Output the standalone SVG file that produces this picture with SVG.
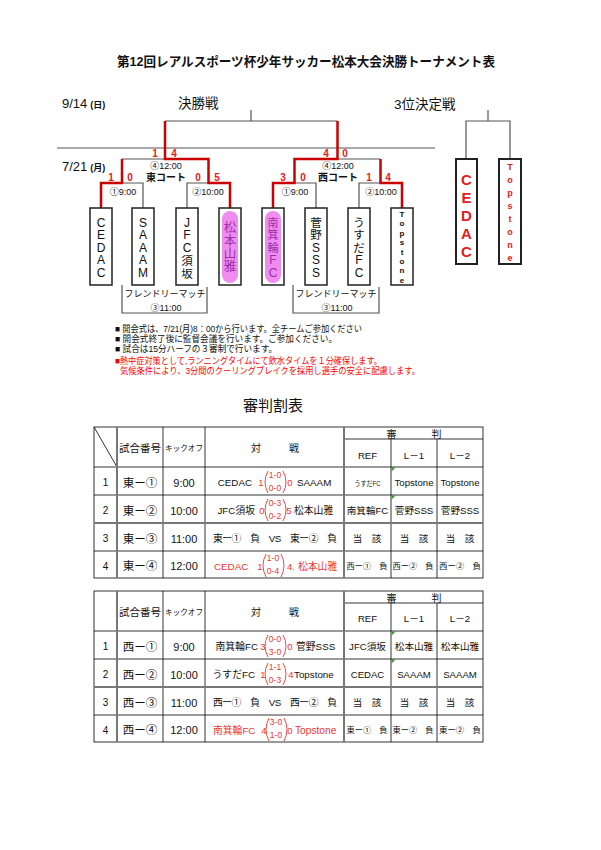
<svg xmlns="http://www.w3.org/2000/svg" width="601" height="850" viewBox="0 0 601 850">
<style>
text{font-family:"Liberation Sans","Noto Sans CJK JP",sans-serif;fill:#111}
.g{fill:none;stroke:#555;stroke-width:1.2}
.r{fill:none;stroke:#cc0000;stroke-width:2.5}
.box{fill:#fff;stroke:#222;stroke-width:1.5}
.box3{fill:#fff;stroke:#222;stroke-width:2}
.pill{fill:#f08cf0}
.vt{font-size:12px;text-anchor:middle}
.vs{font-size:8px;font-weight:bold;text-anchor:middle}
.pt{font-size:13px;text-anchor:middle;fill:#9a2fa8}
.sc{font-size:10px;font-weight:bold;fill:#e02020;text-anchor:middle}
.lb{font-size:9px;text-anchor:middle}
.note{font-size:9px}
.rn{fill:#ff0000}
.c{text-anchor:middle}
.e{text-anchor:end}
.tl{fill:none;stroke:#000;stroke-width:0.8}
.tk{fill:none;stroke:#777;stroke-width:2}
.num{font-size:10px;text-anchor:middle}
.mn{font-size:11.5px;text-anchor:middle}
.tm{font-size:11px;text-anchor:middle}
.m{font-size:9.8px}
.sm{font-size:8.5px;text-anchor:middle;fill:#ee3333}
.sd{font-size:9.5px;text-anchor:middle;fill:#ee3333}
.red{fill:#ee3333}
.par{fill:none;stroke:#ee3333;stroke-width:0.9}
.ref{font-size:9.6px;text-anchor:middle}
.rs{font-size:8.2px;text-anchor:middle}
.hd{font-size:10px;text-anchor:middle}
.gm{fill:#2a9a2a}
</style>
<rect x="0" y="0" width="601" height="850" fill="#fff"/>

<text x="306" y="66" class="c" font-size="13" font-weight="bold" textLength="378" lengthAdjust="spacingAndGlyphs">第12回レアルスポーツ杯少年サッカー松本大会決勝トーナメント表</text>

<text x="62" y="108" font-size="13">9/14<tspan dx="3" font-size="9" font-weight="bold">(日)</tspan></text>
<text x="62" y="171" font-size="13">7/21<tspan dx="3" font-size="9" font-weight="bold">(月)</tspan></text>
<text x="178" y="108" font-size="13.5">決勝戦</text>
<text x="394" y="109" font-size="13.5">3位決定戦</text>

<g id="connectors">
<path class="g" d="M251,110V121 M165,121H337.5 M122,159H165 M122,183H143V208 M187,208V183H208.5 M337.5,159H380.5 M294.5,183H316V208 M359,208V183H380.5 M57,148H435 M488,110V121 M466,159V121H510V159 M122,285V313H207V287 M293,285V313H379V287"/>
<path class="r" d="M101,208V183H122V159 M230,208V183H208.5V159H165V121 M273,208V183H294.5V159H337.5V121 M402,208V183H380.5V159"/>
</g>

<g id="labels">
<text class="sc" x="155" y="157">1</text>
<text class="sc" x="174" y="157">4</text>
<text class="sc" x="111" y="181">1</text>
<text class="sc" x="130" y="181">0</text>
<text class="sc" x="198" y="181">0</text>
<text class="sc" x="217" y="181">5</text>
<text class="sc" x="326" y="157">4</text>
<text class="sc" x="345" y="157">0</text>
<text class="sc" x="283" y="181">3</text>
<text class="sc" x="303" y="181">0</text>
<text class="sc" x="369" y="181">1</text>
<text class="sc" x="388" y="181">4</text>
<text class="lb" x="166" y="169">④12:00</text>
<text class="c" x="166" y="181" font-size="10" font-weight="bold">東コート</text>
<text class="lb" x="338" y="169">④12:00</text>
<text class="c" x="338" y="181" font-size="10" font-weight="bold">西コート</text>
<text class="lb" x="123" y="195">①9:00</text>
<text class="lb" x="208" y="195">②10:00</text>
<text class="lb" x="295" y="195">①9:00</text>
<text class="lb" x="381" y="195">②10:00</text>
<text class="lb" x="165" y="297">フレンドリーマッチ</text>
<text class="lb" x="166" y="311">③11:00</text>
<text class="lb" x="336" y="297">フレンドリーマッチ</text>
<text class="lb" x="337" y="311">③11:00</text>
</g>

<g id="team-cedac">
<rect class="box" x="90" y="208" width="22" height="77"/>
<text class="vt"><tspan x="101" y="226.5">C</tspan><tspan x="101" y="239">E</tspan><tspan x="101" y="251.5">D</tspan><tspan x="101" y="264">A</tspan><tspan x="101" y="277">C</tspan></text>
</g>
<g id="team-saaam">
<rect class="box" x="132" y="208" width="22" height="77"/>
<text class="vt"><tspan x="143" y="226.5">S</tspan><tspan x="143" y="239">A</tspan><tspan x="143" y="251.5">A</tspan><tspan x="143" y="264">A</tspan><tspan x="143" y="277">M</tspan></text>
</g>
<g id="team-jfc">
<rect class="box" x="176" y="208" width="22" height="77"/>
<text class="vt"><tspan x="187" y="226.5">J</tspan><tspan x="187" y="239">F</tspan><tspan x="187" y="251.5">C</tspan><tspan x="187" y="264.5" font-size="11.5">須</tspan><tspan x="187" y="277.5" font-size="11.5">坂</tspan></text>
</g>
<g id="team-matsumoto">
<rect class="box" x="219" y="208" width="22" height="77"/>
<rect class="pill" x="222" y="211" width="16" height="72" rx="8"/>
<text class="pt" font-size="12.5" style="font-size:12.5px"><tspan x="230" y="232">松</tspan><tspan x="230" y="245">本</tspan><tspan x="230" y="258">山</tspan><tspan x="230" y="271">雅</tspan></text>
</g>
<g id="team-minamiminowa">
<rect class="box" x="262" y="208" width="22" height="77"/>
<rect class="pill" x="265" y="211" width="16" height="72" rx="8"/>
<text class="pt" style="font-size:11px"><tspan x="273" y="226.5">南</tspan><tspan x="273" y="239">箕</tspan><tspan x="273" y="251.5">輪</tspan><tspan x="273" y="264" style="font-size:12px">F</tspan><tspan x="273" y="277" style="font-size:12px">C</tspan></text>
</g>
<g id="team-sugano">
<rect class="box" x="305" y="208" width="22" height="77"/>
<text class="vt"><tspan x="316" y="226.5" font-size="11.5">菅</tspan><tspan x="316" y="239" font-size="11.5">野</tspan><tspan x="316" y="251.5">S</tspan><tspan x="316" y="264">S</tspan><tspan x="316" y="277">S</tspan></text>
</g>
<g id="team-usuda">
<rect class="box" x="348" y="208" width="22" height="77"/>
<text class="vt"><tspan x="359" y="226.5" font-size="11.5">う</tspan><tspan x="359" y="239" font-size="11.5">す</tspan><tspan x="359" y="251.5" font-size="11.5">だ</tspan><tspan x="359" y="264">F</tspan><tspan x="359" y="277">C</tspan></text>
</g>
<g id="team-topstone">
<rect class="box" x="391" y="208" width="22" height="77"/>
<text class="vs"><tspan x="402" y="217">T</tspan><tspan x="402" y="226.4">o</tspan><tspan x="402" y="235.8">p</tspan><tspan x="402" y="245.2">s</tspan><tspan x="402" y="254.6">t</tspan><tspan x="402" y="264">o</tspan><tspan x="402" y="273.4">n</tspan><tspan x="402" y="282.8">e</tspan></text>
</g>
<g id="third-cedac">
<rect class="box3" x="456" y="159" width="21" height="105"/>
<text class="c" font-size="15" font-weight="bold" style="fill:#e02020"><tspan x="466.5" y="184.5">C</tspan><tspan x="466.5" y="202.5">E</tspan><tspan x="466.5" y="220.5">D</tspan><tspan x="466.5" y="238.5">A</tspan><tspan x="466.5" y="256.5">C</tspan></text>
</g>
<g id="third-topstone">
<rect class="box3" x="499" y="159" width="22" height="105"/>
<text class="c" font-size="9" font-weight="bold" style="fill:#e02020"><tspan x="510" y="170.2">T</tspan><tspan x="510" y="183.2">o</tspan><tspan x="510" y="196.2">p</tspan><tspan x="510" y="209.2">s</tspan><tspan x="510" y="222.2">t</tspan><tspan x="510" y="235.2">o</tspan><tspan x="510" y="248.2">n</tspan><tspan x="510" y="261.2">e</tspan></text>
</g>

<g id="notes">
<text class="note" x="115" y="332" textLength="247" lengthAdjust="spacingAndGlyphs">■ 開会式は、7/21(月)8：00から行います。全チームご参加ください</text>
<text class="note" x="115" y="342" textLength="222" lengthAdjust="spacingAndGlyphs">■ 開会式終了後に監督会議を行います。ご参加ください。</text>
<text class="note" x="115" y="352" textLength="162" lengthAdjust="spacingAndGlyphs">■ 試合は15分ハーフの３審制で行います。</text>
<text class="note rn" x="115" y="364" textLength="267" lengthAdjust="spacingAndGlyphs">■熱中症対策として,ランニングタイムにて飲水タイムを１分確保します。</text>
<text class="note rn" x="120" y="374" textLength="300" lengthAdjust="spacingAndGlyphs">気候条件により、3分間のクーリングブレイクを採用し選手の安全に配慮します。</text>
</g>

<text x="273" y="411" class="c" font-size="15">審判割表</text>

<g id="table-east">
<rect x="94" y="427" width="389" height="151" class="tl"/>
<path class="tl" d="M344,439H483 M94,467H483 M94,495H483 M94,551H483 M163,427V578 M205,427V578 M391,439V578 M437,439V578 M94,427L117,467"/>
<path class="tk" d="M94,523H483 M117,427V578 M344,427V578"/>
<polygon class="gm" points="391.5,467.5 395.5,467.5 391.5,471.5"/>
<polygon class="gm" points="391.5,495.5 395.5,495.5 391.5,499.5"/>
<text class="hd" x="414" y="437.5" textLength="55" lengthAdjust="spacing">審　　判</text>
<text class="c" x="140" y="451.5" font-size="10.5">試合番号</text>
<text class="c" x="184" y="451" font-size="8" textLength="38" lengthAdjust="spacingAndGlyphs">キックオフ</text>
<text class="hd" x="275" y="451.5" textLength="48" lengthAdjust="spacing">対　　戦</text>
<text class="ref" x="367.5" y="458.5">REF</text>
<text class="ref" x="414" y="458.5">L－1</text>
<text class="ref" x="460" y="458.5">L－2</text>

<text class="num" x="105.5" y="486">1</text>
<text class="mn" x="140" y="486.5">東ー①</text>
<text class="tm" x="184" y="486.5">9:00</text>
<text class="m e" x="252" y="486">CEDAC</text>
<text class="sd" x="261" y="486">1</text>
<path class="par" d="M268,471Q262,482 268,493 M283,471Q289,482 283,493"/>
<text class="sm" x="275" y="477.8">1-0</text>
<text class="sm" x="275" y="490.8">0-0</text>
<text class="sd" x="290" y="486">0</text>
<text class="m" x="297" y="486">SAAAM</text>
<text class="c" x="367.5" y="485.5" font-size="7" textLength="26" lengthAdjust="spacingAndGlyphs">うすだFC</text>
<text class="ref" x="414" y="486">Topstone</text>
<text class="ref" x="460" y="486">Topstone</text>

<text class="num" x="105.5" y="514">2</text>
<text class="mn" x="140" y="514.5">東ー②</text>
<text class="tm" x="184" y="514.5">10:00</text>
<text class="m e" x="255" y="514">JFC須坂</text>
<text class="sd" x="262" y="514">0</text>
<path class="par" d="M268,499Q262,510 268,521 M283,499Q289,510 283,521"/>
<text class="sm" x="275" y="505.8">0-3</text>
<text class="sm" x="275" y="518.8">0-2</text>
<text class="sd" x="289" y="514">5</text>
<text class="m" x="294" y="514">松本山雅</text>
<text class="ref" x="367.5" y="514">南箕輪FC</text>
<text class="ref" x="414" y="514">菅野SSS</text>
<text class="ref" x="460" y="514">菅野SSS</text>

<text class="num" x="105.5" y="542">3</text>
<text class="mn" x="140" y="542.5">東ー③</text>
<text class="tm" x="184" y="542.5">11:00</text>
<text class="c m" x="275" y="542" textLength="124" lengthAdjust="spacing">東ー①　負　VS　東ー②　負</text>
<text class="c" x="367" y="542" font-size="9.5">当　該</text>
<text class="c" x="414" y="542" font-size="9.5">当　該</text>
<text class="c" x="460" y="542" font-size="9.5">当　該</text>

<text class="num" x="105.5" y="569.5">4</text>
<text class="mn" x="140" y="570">東ー④</text>
<text class="tm" x="184" y="570">12:00</text>
<text class="m red" x="214" y="569.5">CEDAC</text>
<text class="sd" x="260" y="569.5">1</text>
<path class="par" d="M266,554Q260,565.5 266,577 M281,554Q287,565.5 281,577"/>
<text class="sm" x="273" y="561.3">1-0</text>
<text class="sm" x="273" y="574.3">0-4</text>
<text class="sd" x="287" y="569.5" style="text-anchor:start">4.</text>
<text class="m red" x="298" y="569.5">松本山雅</text>
<text class="rs" x="367" y="569" textLength="41" lengthAdjust="spacingAndGlyphs">西ー①　負</text>
<text class="rs" x="413" y="569" textLength="41" lengthAdjust="spacingAndGlyphs">西ー②　負</text>
<text class="rs" x="460" y="569" textLength="42" lengthAdjust="spacingAndGlyphs">西ー②　負</text>
</g>

<g id="table-west">
<rect x="94" y="591" width="389" height="151" class="tl"/>
<path class="tl" d="M344,603H483 M94,631H483 M94,659H483 M94,715H483 M163,591V742 M205,591V742 M391,603V742 M437,603V742"/>
<path class="tk" d="M94,687H483 M117,591V742 M344,591V742"/>
<polygon class="gm" points="391.5,631.5 395.5,631.5 391.5,635.5"/>
<polygon class="gm" points="391.5,659.5 395.5,659.5 391.5,663.5"/>
<text class="hd" x="414" y="602" textLength="55" lengthAdjust="spacing">審　　判</text>
<text class="c" x="140" y="615.5" font-size="10.5">試合番号</text>
<text class="c" x="184" y="615" font-size="8" textLength="38" lengthAdjust="spacingAndGlyphs">キックオフ</text>
<text class="hd" x="275" y="615.5" textLength="48" lengthAdjust="spacing">対　　戦</text>
<text class="ref" x="367.5" y="622">REF</text>
<text class="ref" x="414" y="622">L－1</text>
<text class="ref" x="460" y="622">L－2</text>

<text class="num" x="105.5" y="650">1</text>
<text class="mn" x="140" y="650.5">西ー①</text>
<text class="tm" x="184" y="650.5">9:00</text>
<text class="m e" x="258" y="650">南箕輪FC</text>
<text class="sd" x="263" y="650">3</text>
<path class="par" d="M268,635Q262,646 268,657 M283,635Q289,646 283,657"/>
<text class="sm" x="275" y="641.8">0-0</text>
<text class="sm" x="275" y="654.8">3-0</text>
<text class="sd" x="290" y="650">0</text>
<text class="m" x="296" y="650">菅野SSS</text>
<text class="ref" x="367.5" y="650">JFC須坂</text>
<text class="ref" x="414" y="650">松本山雅</text>
<text class="ref" x="460" y="650">松本山雅</text>

<text class="num" x="105.5" y="678">2</text>
<text class="mn" x="140" y="678.5">西ー②</text>
<text class="tm" x="184" y="678.5">10:00</text>
<text class="m e" x="255" y="678">うすだFC</text>
<text class="sd" x="263" y="678">1</text>
<path class="par" d="M268,663Q262,674 268,685 M283,663Q289,674 283,685"/>
<text class="sm" x="275" y="669.8">1-1</text>
<text class="sm" x="275" y="682.8">0-3</text>
<text class="sd" x="291" y="678">4</text>
<text class="m" x="294" y="678">Topstone</text>
<text class="ref" x="367.5" y="678">CEDAC</text>
<text class="ref" x="414" y="678">SAAAM</text>
<text class="ref" x="460" y="678">SAAAM</text>

<text class="num" x="105.5" y="706">3</text>
<text class="mn" x="140" y="706.5">西ー③</text>
<text class="tm" x="184" y="706.5">11:00</text>
<text class="c m" x="275" y="706" textLength="124" lengthAdjust="spacing">西ー①　負　VS　西ー②　負</text>
<text class="c" x="367" y="706" font-size="9.5">当　該</text>
<text class="c" x="414" y="706" font-size="9.5">当　該</text>
<text class="c" x="460" y="706" font-size="9.5">当　該</text>

<text class="num" x="105.5" y="733.5">4</text>
<text class="mn" x="140" y="734">西ー④</text>
<text class="tm" x="184" y="734">12:00</text>
<text class="m red" x="213" y="733.5">南箕輪FC</text>
<text class="sd" x="264" y="733.5">4</text>
<path class="par" d="M269,718Q263,729.5 269,741 M284,718Q290,729.5 284,741"/>
<text class="sm" x="276" y="725.3">3-0</text>
<text class="sm" x="276" y="738.3">1-0</text>
<text class="sd" x="290" y="733.5">0</text>
<text class="red" x="295" y="733.5" font-size="10.2">Topstone</text>
<text class="rs" x="367" y="733" textLength="41" lengthAdjust="spacingAndGlyphs">東ー①　負</text>
<text class="rs" x="413" y="733" textLength="41" lengthAdjust="spacingAndGlyphs">東ー②　負</text>
<text class="rs" x="460" y="733" textLength="42" lengthAdjust="spacingAndGlyphs">東ー②　負</text>
</g>
</svg>
